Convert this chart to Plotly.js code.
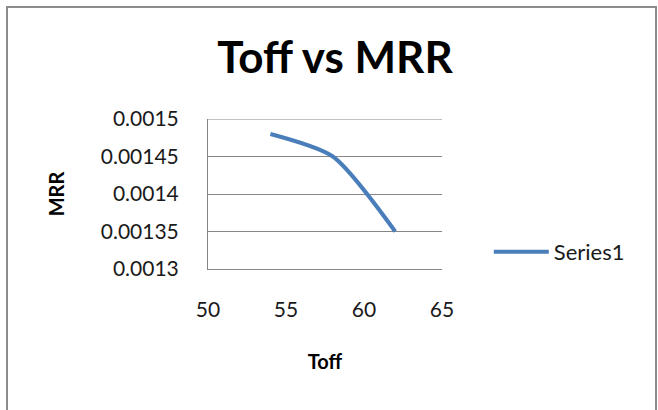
<!DOCTYPE html>
<html>
<head>
<meta charset="utf-8">
<script src="https://cdn.plot.ly/plotly-3.0.1.min.js"></script>
<style>
html,body{margin:0;padding:0;background:#fff;}
#wrap{position:relative;width:658px;height:410px;}
#chart{width:658px;height:410px;}
#frame{position:absolute;left:6px;top:6px;width:651px;height:420px;border:2px solid #8c8c8c;pointer-events:none;box-sizing:border-box;}
</style>
</head>
<body>
<div id="wrap"><div id="chart"></div><div id="frame"></div></div>
<script>
const toff = [54, 58, 62];
const mrr = [0.00148, 0.00145, 0.00135];
const seriesName = 'Series1';
const xTicks = [50, 55, 60, 65];
const yTicks = [0.0013, 0.00135, 0.0014, 0.00145, 0.0015];
const yTickText = ['0.0013', '0.00135', '0.0014', '0.00145', '0.0015'];

const font = 'Lato, "Open Sans", sans-serif';
const yTop = yTicks[yTicks.length - 1];
Plotly.newPlot('chart', [{
  x: toff, y: mrr, name: seriesName, type: 'scatter', mode: 'lines',
  line: {color: '#4a7ebb', width: 4, shape: 'spline', smoothing: 0.7},
  showlegend: true
}], {
  width: 658, height: 410,
  margin: {l: 208, r: 216, t: 119, b: 141},
  paper_bgcolor: '#fff', plot_bgcolor: '#fff',
  font: {family: font, color: '#000', size: 21},
  title: {text: '<b>Toff vs MRR</b>', font: {family: font, size: 44, color: '#000'}, x: 0.509, xanchor: 'center', y: 0.86, yanchor: 'middle'},
  xaxis: {range: [xTicks[0], xTicks[xTicks.length - 1]], tickvals: xTicks, ticktext: xTicks.map(String), showgrid: false, zeroline: false,
    showline: true, linecolor: '#868686', linewidth: 1, ticks: '', ticklabelstandoff: 22,
    tickfont: {family: font, size: 21, color: '#1a1a1a'},
    title: {text: '<b>Toff</b>', font: {family: font, size: 20, color: '#000'}, standoff: 34}},
  yaxis: {range: [yTicks[0], yTop], tickvals: yTicks, ticktext: yTickText, showgrid: true, gridcolor: '#868686', gridwidth: 1,
    zeroline: false, showline: true, linecolor: '#868686', linewidth: 1, ticks: '', ticklabelstandoff: 24,
    tickfont: {family: font, size: 21, color: '#1a1a1a'},
    title: {text: '<b>MRR</b>', font: {family: font, size: 20, color: '#000'}, standoff: 30}},
  shapes: [{type: 'line', xref: 'paper', x0: 0, x1: 1, yref: 'y', y0: yTop, y1: yTop, line: {color: '#868686', width: 1}, layer: 'below'}],
  legend: {x: 1.2, xanchor: 'left', y: 0.113, yanchor: 'middle', itemwidth: 55, font: {family: font, size: 22, color: '#1a1a1a'}, bgcolor: 'rgba(0,0,0,0)'}
}, {displayModeBar: false, staticPlot: true});
</script>
</body>
</html>
